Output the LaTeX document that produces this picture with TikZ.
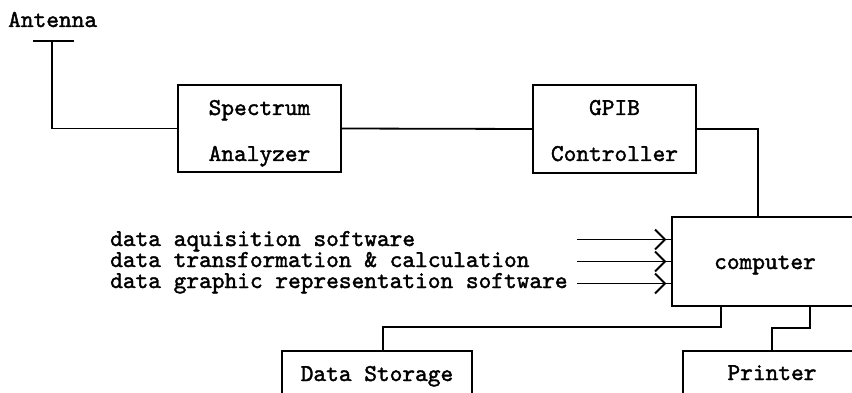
\documentclass[tikz,border=0pt]{standalone}
\usepackage{fontspec}
\newfontfamily\diagfont{lmmono10-regular.otf}[FakeBold=1.6]
\begin{document}
\begin{tikzpicture}[x=1pt,y=-1pt,
  wire/.style={line width=1.8pt},
  blk/.style={draw, line width=1.8pt, rectangle, inner sep=0pt, outer sep=0pt, anchor=north west},
  txt/.style={font=\diagfont\fontsize{24.2}{28}\selectfont, inner sep=0pt}]
\useasboundingbox (0,0) rectangle (852,393);

% blocks
\node[blk, minimum width=163pt, minimum height=87pt] (spec) at (178,85) {};
\node[blk, minimum width=163pt, minimum height=88pt] (gpib) at (533,85) {};
\node[blk, minimum width=186pt, minimum height=89pt] (comp) at (672,217) {};
\node[blk, minimum width=190pt, minimum height=60pt] (store) at (282,351) {};
\node[blk, minimum width=178pt, minimum height=60pt] (prn) at (683,351) {};

% block labels
\node[txt, anchor=base west] (anttxt) at (8,27) {Antenna};
\node[txt, anchor=base] (spec1) at (259.5,115) {Spectrum};
\node[txt, anchor=base] (spec2) at (259.5,161) {Analyzer};
\node[txt, anchor=base] (gpib1) at (614.5,115) {GPIB};
\node[txt, anchor=base] (gpib2) at (614.5,161) {Controller};
\node[txt, anchor=base] (comptxt) at (765,269) {computer};
\node[txt, anchor=base] (storetxt) at (377,381) {Data Storage};
\node[txt, anchor=base] (prntxt) at (772,380) {Printer};

% software inputs
\node[txt, anchor=base west] (sw1) at (110,246) {data aquisition software};
\node[txt, anchor=base west] (sw2) at (110,267) {data transformation \& calculation};
\node[txt, anchor=base west] (sw3) at (110,288) {data graphic representation software};

% antenna
\coordinate (ant) at (52,41);
\draw[wire] ([xshift=-19pt]ant) -- ([xshift=22pt]ant);
\draw[wire] (ant) |- (spec.west);

% signal chain
\draw[wire] (spec.east) -- (gpib.west);
\draw[wire] (gpib.east) -| ([xshift=-7pt]comp.north);

% input arrows with open chevrons
\foreach \i/\yy in {1/239.5, 2/261.5, 3/283.5}{
  \coordinate (a\i) at (577,\yy);
  \coordinate (t\i) at (a\i -| comp.west);
  \draw[wire] (a\i) -- (t\i);
  \draw[wire] ([xshift=-7pt]t\i) ++(-10,-10) -- ++(10,10) -- ++(-10,10);
}

% outputs
\draw[wire] ([xshift=-44pt]comp.south) -- ++(0,21) -| ([xshift=6pt]store.north);
\draw[wire] ([xshift=45pt]comp.south) -- ++(0,22) -| (prn.north);
\end{tikzpicture}
\end{document}
